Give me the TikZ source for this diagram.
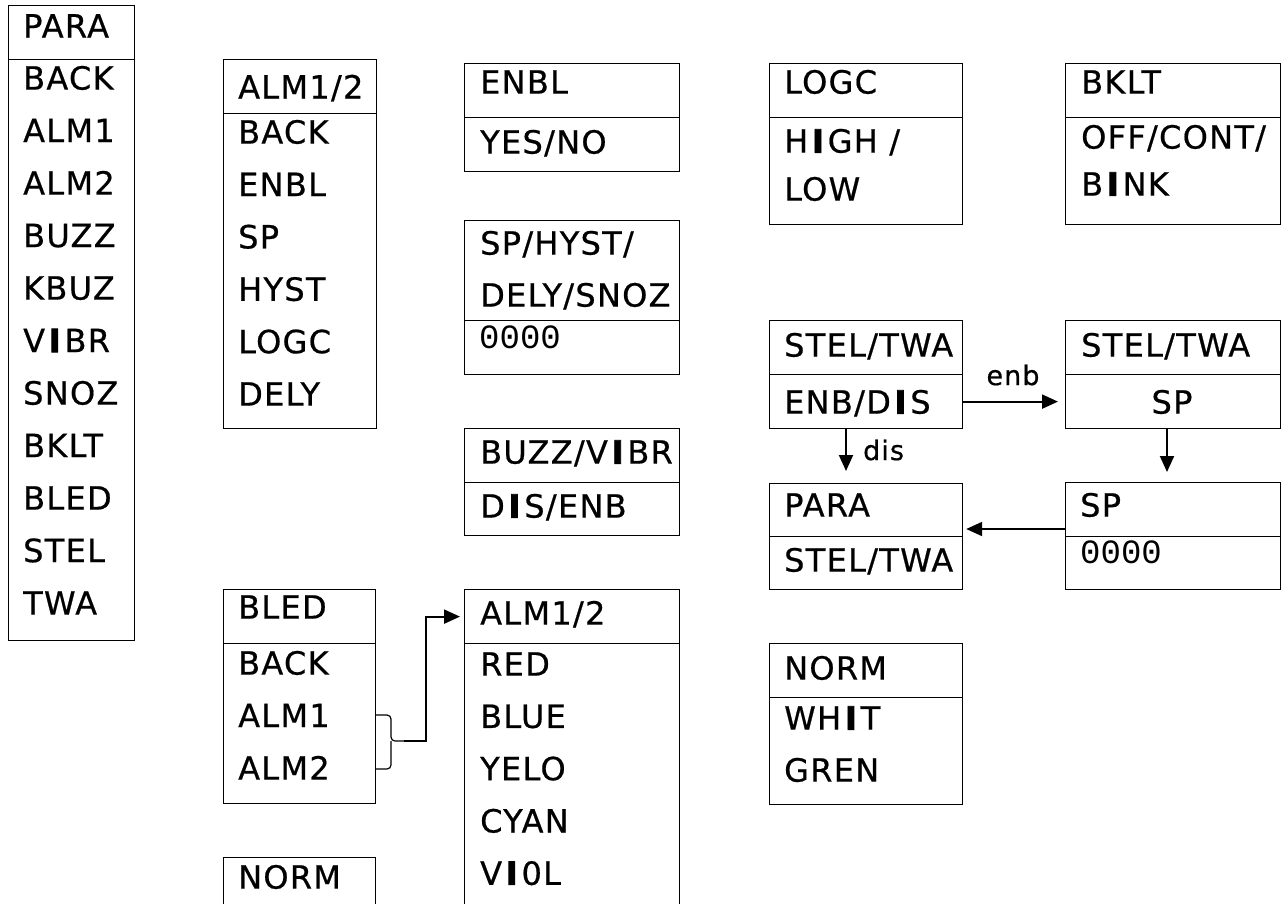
\documentclass[tikz,border=0pt]{standalone}
\usepackage{fontspec}
\setmainfont{DejaVu Sans}[LetterSpace=4, FakeBold=0.6]
\newfontfamily\segfont{Liberation Mono}
\usetikzlibrary{arrows.meta}
\newcommand\bI{\hspace{2.5pt}\textbf{\addfontfeature{FakeBold=2.5}I}\hspace{2.5pt}}
\tikzset{
  frame/.style={draw, line width=1.2pt, inner sep=0pt, anchor=north west, rectangle},
  txt/.style={anchor=base west, inner sep=0pt, font=\fontsize{32}{32}\selectfont},
  seg/.style={anchor=base west, inner sep=0pt, font=\segfont\fontsize{34}{34}\selectfont},
  lbl/.style={inner sep=0pt, font=\fontsize{27}{27}\selectfont},
  arr/.style={line width=2pt, -{Triangle[length=16pt,width=14pt]}},
  brace/.style={line width=1.2pt, rounded corners=4pt},
}
\newcommand\mkbox[6]{%
  \node[frame, minimum width={(#3-#2)*1pt}, minimum height={(#5-#4)*1pt}] (#1-h) at (#2,#4) {};
  \node[frame, minimum width={(#3-#2)*1pt}, minimum height={(#6-#5)*1pt}] (#1-b) at (#2,#5) {};
}
\begin{document}
\begin{tikzpicture}[x=1pt,y=-1pt]
\useasboundingbox (0,0) rectangle (1281,903);
\clip (0,0) rectangle (1281,903);
% frames
\mkbox{para}{8}{134}{5}{59}{640}
\mkbox{alm}{223}{376}{59}{113}{428}
\mkbox{enbl}{464}{679}{63}{117}{171}
\mkbox{sph}{464}{679}{220}{320}{374}
\mkbox{buz}{464}{679}{428}{482}{535}
\mkbox{alc}{464}{679}{589}{643}{960}
\mkbox{bled}{223}{375}{589}{643}{803}
\mkbox{norml}{223}{375}{857}{911}{960}
\mkbox{logc}{769}{962}{63}{117}{224}
\mkbox{bklt}{1065}{1280}{63}{117}{224}
\mkbox{sta}{769}{962}{320}{374}{428}
\mkbox{stb}{1065}{1280}{320}{374}{428}
\mkbox{pst}{769}{962}{483}{536}{589}
\mkbox{spb}{1065}{1280}{482}{536}{589}
\mkbox{normr}{769}{962}{643}{697}{804}
% texts
\node[txt] (para-t) at (23,37.5) {PARA};
\foreach \w [count=\i from 0] in {BACK,ALM1,ALM2,BUZZ,KBUZ,V\bI BR,SNOZ,BKLT,BLED,STEL,TWA}
  \node[txt] (para-i\i) at (23,{78+52.5*\i+11.6}) {\w};
\node[txt] (alm-t) at (238,98.5) {ALM1/2};
\foreach \w [count=\i from 0] in {BACK,ENBL,SP,HYST,LOGC,DELY}
  \node[txt] (alm-i\i) at (238,{132+52.4*\i+11.6}) {\w};
\node[txt] (enbl-t) at (480,93.6) {ENBL};
\node[txt] (enbl-i) at (480,153.6) {YES/NO};
\node[txt] (sph-t1) at (480,254.6) {SP/HYST/};
\node[txt] (sph-t2) at (480,306.6) {DELY/SNOZ};
\node[seg] (sph-i) at (479,348.5) {0000};
\node[txt] (buz-t) at (480,463.6) {BUZZ/V\bI BR};
\node[txt] (buz-i) at (480,517.6) {D\bI S/ENB};
\node[txt] (alc-t) at (480,624.6) {ALM1/2};
\foreach \w [count=\i from 0] in {RED,BLUE,YELO,CYAN,V\bI 0L}
  \node[txt] (alc-i\i) at (480,{664+52.3*\i+11.6}) {\w};
\node[txt] (bled-t) at (238,618.6) {BLED};
\foreach \w [count=\i from 0] in {BACK,ALM1,ALM2}
  \node[txt] (bled-i\i) at (238,{663+52.5*\i+11.6}) {\w};
\node[txt] (norml-t) at (238,888.6) {NORM};
\node[txt] (logc-t) at (784,93.6) {LOGC};
\node[txt] (logc-i0) at (784,152.6) {H\bI GH /};
\node[txt] (logc-i1) at (784,200.6) {LOW};
\node[txt] (bklt-t) at (1081,93.6) {BKLT};
\node[txt] (bklt-i0) at (1081,148.6) {OFF/CONT/};
\node[txt] (bklt-i1) at (1081,195.6) {B\bI NK};
\node[txt] (sta-t) at (784,356.6) {STEL/TWA};
\node[txt] (sta-i) at (784,413.6) {ENB/D\bI S};
\node[txt] (stb-t) at (1081,356.6) {STEL/TWA};
\node[txt, anchor=base] (stb-i) at (1172,413.6) {SP};
\node[txt] (pst-t) at (784,516.6) {PARA};
\node[txt] (pst-i) at (784,571.6) {STEL/TWA};
\node[txt] (spb-t) at (1080,516.6) {SP};
\node[seg] (spb-i) at (1080,563.5) {0000};
\node[txt] (normr-t) at (784,679.6) {NORM};
\node[txt] (normr-i0) at (784,729.6) {WH\bI T};
\node[txt] (normr-i1) at (784,781.6) {GREN};
% connectors
\draw[arr, shorten >=7pt] (sta-b.east) -- (stb-b.west);
\node[lbl] (enb) at (1013,375) {enb};
\draw[arr, shorten >=12pt] (sta-b.south -| 846,0) -- (pst-h.north -| 846,0);
\node[lbl, anchor=west] (dis) at (863,450) {dis};
\draw[arr, shorten >=10pt] (stb-b.south -| 1167,0) -- (spb-h.north -| 1167,0);
\draw[arr, shorten >=3pt] (spb-h.west |- 0,529) -- (pst-h.east |- 0,529);
% brace
\draw[brace] (376,715) -- (391,715) -- (391,741) -- (404,741);
\draw[brace] (376,769) -- (391,769) -- (391,741);
\coordinate (bt) at (404,741);
\draw[arr, shorten >=4pt] (bt) -- (426,741) |- (alc-h.west);
\end{tikzpicture}
\end{document}
